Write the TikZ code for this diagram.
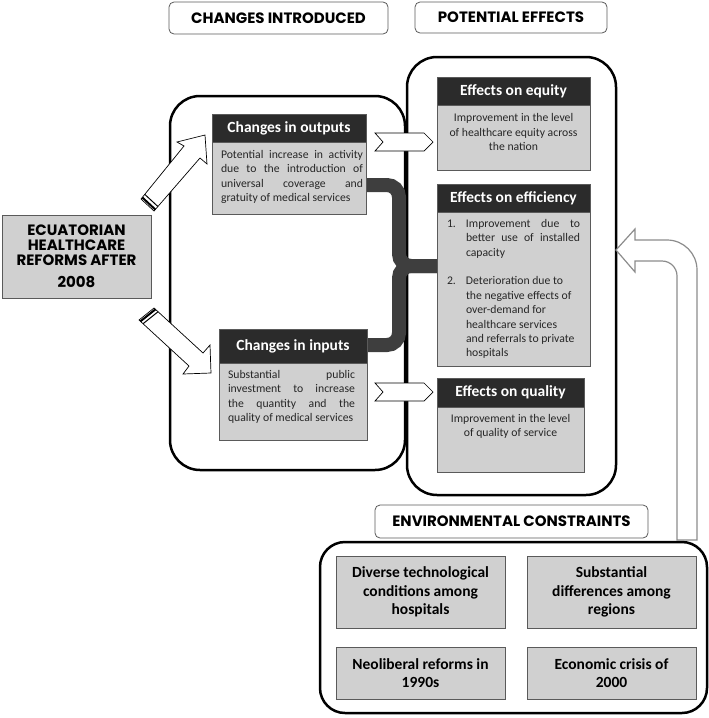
\documentclass[tikz,border=0pt]{standalone}
\usepackage{fontspec}
\setmainfont{Carlito}
\newfontfamily\capsfont{Poppins}
\usetikzlibrary{calc}
\definecolor{boxgray}{HTML}{D0D0D0}
\definecolor{hdrgray}{HTML}{2B2B2B}
\definecolor{edgegray}{HTML}{5A5A5A}
\definecolor{bracegray}{HTML}{3E3E3E}
\definecolor{arrowgray}{HTML}{8C8C8C}
\begin{document}
\begin{tikzpicture}[x=1pt,y=-1pt,
  capbox/.style={draw=edgegray, line width=0.8pt, rounded corners=5pt, fill=white, inner sep=0pt, font=\capsfont\bfseries\fontsize{15}{15}\selectfont},
  bigframe/.style={draw=black, line width=2.5pt, rounded corners=30pt, inner sep=0pt},
  hdr/.style={draw=edgegray, line width=0.6pt, fill=hdrgray, text=white, inner sep=0pt, font=\bfseries\fontsize{15.5}{16}\selectfont},
  bodybox/.style={draw=edgegray, line width=0.6pt, fill=boxgray, inner sep=0pt},
  bodytext/.style={inner sep=0pt, font=\fontsize{11.7}{14.4}\selectfont, text=black!85},
  envbox/.style={draw=edgegray, line width=0.6pt, fill=boxgray, inner sep=0pt, align=center, font=\bfseries\fontsize{15.5}{18.5}\selectfont, minimum width=169pt},
  ecbox/.style={draw=edgegray, line width=0.6pt, fill=boxgray, inner sep=0pt, align=center, font=\capsfont\bfseries\fontsize{15}{15}\selectfont},
  hollow/.style={draw=black, line width=0.7pt, fill=white, line join=miter},
  brace/.style={draw=bracegray, line width=14pt},
  stripe/.style={draw=black, line width=2pt},
]
\useasboundingbox (0,0) rectangle (709,718);

% top labels
\node[capbox, minimum width=219pt, minimum height=32pt] (lblchanges) at (278.5,18) {CHANGES INTRODUCED};
\node[capbox, minimum width=192pt, minimum height=31pt] (lblpotential) at (511,17.5) {POTENTIAL EFFECTS};

% big frames
\node[bigframe, minimum width=235pt, minimum height=374pt] (changesframe) at (287.5,283) {};
\node[bigframe, minimum width=209pt, minimum height=438pt] (effectsframe) at (511.5,276) {};

% brace connecting changes to efficiency
\draw[brace, rounded corners=12pt] (364,185) -| (399,266) -- (438,266);
\draw[brace, rounded corners=12pt] (365,345) -| (399,266) -- (438,266);

% reform box
\node[ecbox, minimum width=149pt, minimum height=83pt] (reform) at (76.5,256.5) {ECUATORIAN\\HEALTHCARE\\REFORMS AFTER\\[7pt]2008};

% changes in outputs
\node[bodybox, minimum width=154pt, minimum height=72pt] (outbody) at (289,178) {};
\node[hdr, minimum width=154pt, minimum height=28pt] (outhdr) at (289,128) {Changes in outputs};
\node[bodytext, text width=142pt, align=justify] (outtext) at (292,177) {Potential increase in activity\linebreak due to the introduction of\linebreak universal coverage and\linebreak gratuity of medical services};

% changes in inputs
\node[bodybox, minimum width=148pt, minimum height=77pt] (inbody) at (293,401.5) {};
\node[hdr, minimum width=148pt, minimum height=34pt] (inhdr) at (293,346) {Changes in inputs};
\node[bodytext, text width=127pt, align=justify] (intext) at (291.5,397) {Substantial public\linebreak investment to increase\linebreak the quantity and the\linebreak quality of medical services};

% effects on equity
\node[bodybox, minimum width=153pt, minimum height=65pt] (eqbody) at (513.5,137.5) {};
\node[hdr, minimum width=153pt, minimum height=28pt] (eqhdr) at (513.5,91) {Effects on equity};
\node[bodytext, align=center] (eqtext) at (513.5,132) {Improvement in the level\\of healthcare equity across\\the nation};

% effects on efficiency
\node[bodybox, minimum width=153pt, minimum height=154pt] (effbody) at (513.5,289) {};
\node[hdr, minimum width=153pt, minimum height=28pt] (effhdr) at (513.5,198) {Effects on efficiency};
\node[bodytext, text width=133pt, align=justify] (efftext) at (513.5,289) {%
\noindent\hangindent=19pt\hangafter=1\makebox[19pt][l]{1.}Improvement due to\linebreak better use of installed\linebreak capacity\par
\vspace{14.4pt}
{\raggedright\noindent\hangindent=19pt\hangafter=1\makebox[19pt][l]{2.}Deterioration due to\newline the negative effects of\newline over-demand for\newline healthcare services\newline and referrals to private\newline hospitals\par}};

% effects on quality
\node[bodybox, minimum width=147pt, minimum height=65pt] (qualbody) at (510.5,439.5) {};
\node[hdr, minimum width=147pt, minimum height=29pt] (qualhdr) at (510.5,392.5) {Effects on quality};
\node[bodytext, align=center] (qualtext) at (510.5,426.5) {Improvement in the level\\of quality of service};

% chevrons
\draw[hollow] (375,133) -- (424,133) -- (433,142) -- (424,151) -- (375,151) -- (383,142) -- cycle;
\draw[hollow] (375,383) -- (424,383) -- (433,392) -- (424,401) -- (375,401) -- (383,392) -- cycle;

% diagonal block arrows
\draw[hollow] (141,199) -- (184,146) -- (177,142) -- (205,135) -- (207,164) -- (200,158) -- (154,211) -- cycle;
\draw[stripe] (142.3,197.5) -- (155.3,209.5);
\draw[black, line width=1pt] (144.8,194.4) -- (157.8,206.4);
\draw[hollow] (154,308) -- (203,353) -- (210,345) -- (211,373) -- (183,374) -- (189,366) -- (139,320) -- cycle;
\draw[stripe] (140.5,321.3) -- (155.5,309.3);
\draw[black, line width=1pt] (143.1,323.7) -- (158.1,311.7);

% environmental constraints
\node[capbox, minimum width=273pt, minimum height=33pt] (lblenv) at (511.5,521.5) {ENVIRONMENTAL CONSTRAINTS};
\draw[draw=arrowgray, line width=1.2pt, fill=white, line join=miter] (677,540) -- (677,276) .. controls (677,267.7) and (670.3,261) .. (662,261) -- (635,261) -- (635,272) -- (616,250) -- (635,229) -- (635,240) -- (667,240) .. controls (683.6,240) and (697,253.4) .. (697,270) -- (697,540) -- cycle;
\node[bigframe, rounded corners=25pt, minimum width=387pt, minimum height=171pt] (envframe) at (513.5,627.5) {};
\node[envbox, minimum height=72pt] (envtech) at (420.5,592) {Diverse technological\\conditions among\\hospitals};
\node[envbox, minimum height=72pt] (envreg) at (611.5,592) {Substantial\\differences among\\regions};
\node[envbox, minimum height=52pt] (envneo) at (420.5,673) {Neoliberal reforms in\\1990s};
\node[envbox, minimum height=52pt] (envcrisis) at (611.5,673) {Economic crisis of\\2000};
\end{tikzpicture}
\end{document}
